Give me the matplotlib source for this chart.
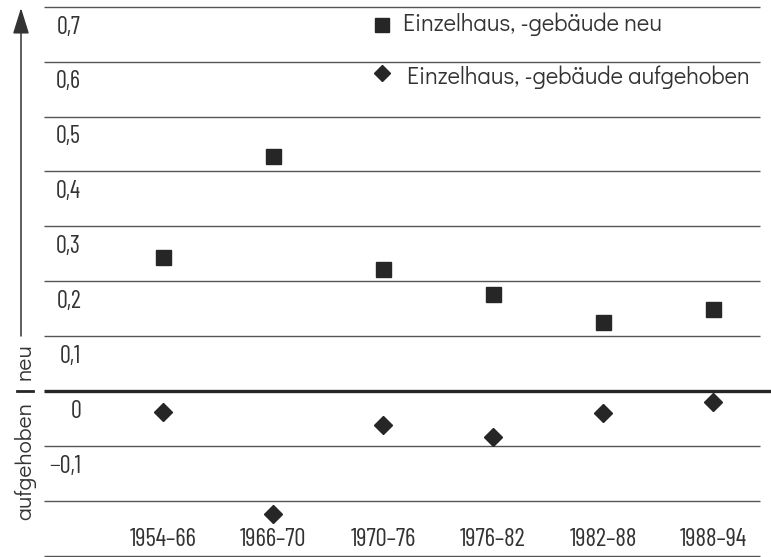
import matplotlib
matplotlib.use("Agg")
import matplotlib.pyplot as plt
import matplotlib.transforms as mtransforms

# ---- data ----
periods = ["1954–66", "1966–70", "1970–76", "1976–82", "1982–88", "1988–94"]
neu = [0.244, 0.428, 0.222, 0.177, 0.126, 0.149]
aufgehoben = [-0.038, -0.224, -0.062, -0.084, -0.040, -0.020]
grid_values = [-0.3, -0.2, -0.1, 0.0, 0.1, 0.2, 0.3, 0.4, 0.5, 0.6, 0.7]
y_labels = ["0,7", "0,6", "0,5", "0,4", "0,3", "0,2", "0,1", "0", "−0,1"]
y_label_values = [0.7, 0.6, 0.5, 0.4, 0.3, 0.2, 0.1, 0.0, -0.1]
legend_labels = ["Einzelhaus, -gebäude neu", "Einzelhaus, -gebäude aufgehoben"]

W, H = 771, 557
fig = plt.figure(figsize=(W / 100, H / 100), dpi=100)
ax = fig.add_axes([0, 0, 1, 1])
ax.set_axis_off()

# zero line at y=391px, 0.1 per 54.9 px; categories start at 163px, 110px apart
y_top = 391 / 549
y_bot = (391 - H) / 549
x_left = -163 / 110
x_right = (W - 163) / 110
ax.set_xlim(x_left, x_right)
ax.set_ylim(y_bot, y_top)

narrow = ["Barlow Condensed", "Fira Sans Condensed", "DejaVu Sans"]
geo = ["Didact Gothic", "Jost", "DejaVu Sans"]
dark = "#262626"
gray_txt = "#333333"

xl = (44 - 163) / 110
xr = (760 - 163) / 110
for v in grid_values:
    if abs(v) < 1e-9:
        ax.hlines(v, xl, W / 110, color=dark, lw=2.4, zorder=2)
    else:
        ax.hlines(v, xl, xr, color="#555555", lw=1.0, zorder=1)

# y labels, placed in each band
trans = mtransforms.blended_transform_factory(ax.transAxes, ax.transData)
for lab, v in zip(y_labels, y_label_values):
    ax.text(81 / W, v - 0.05 + 0.013, lab, transform=trans, ha="right", va="center",
            fontsize=17.5, family=narrow, color=gray_txt)

x = list(range(len(periods)))
ax.plot(x, neu, linestyle="none", marker="s", markersize=10.8, color=dark, zorder=3)
ax.plot(x, aufgehoben, linestyle="none", marker="D", markersize=9.0, color=dark, zorder=3)

for xi, p in zip(x, periods):
    ax.text(xi, (391 - 540) / 549, p, ha="center", va="center", fontsize=18,
            family=narrow, color=gray_txt)

# legend (inline)
fig.lines.append(plt.Line2D([382 / W], [1 - 25 / H], marker="s", markersize=10, color=dark,
                            transform=fig.transFigure, linestyle="none"))
fig.lines.append(plt.Line2D([382 / W], [1 - 73 / H], marker="D", markersize=8.5, color=dark,
                            transform=fig.transFigure, linestyle="none"))
fig.text(403 / W, 1 - 24 / H, legend_labels[0], ha="left", va="center", fontsize=17,
         family=geo, color=gray_txt)
fig.text(407 / W, 1 - 77 / H, legend_labels[1], ha="left", va="center", fontsize=17,
         family=geo, color=gray_txt)

# left arrow and axis captions
ax.annotate("", xy=(21 / W, 1 - 8 / H), xytext=(21 / W, 1 - 336 / H),
            xycoords="axes fraction", textcoords="axes fraction",
            arrowprops=dict(arrowstyle="-|>,head_length=1.6,head_width=0.5", color="#333333",
                            lw=1.1, shrinkA=0, shrinkB=0))
fig.text(25 / W, 1 - 362 / H, "neu", rotation=90, ha="center", va="center", fontsize=16.5,
         family=geo, color=gray_txt)
fig.text(25 / W, 1 - 461 / H, "aufgehoben", rotation=90, ha="center", va="center", fontsize=16.5,
         family=geo, color=gray_txt)
fig.lines.append(plt.Line2D([17 / W, 33 / W], [1 - 391 / H, 1 - 391 / H], color=dark, lw=2.0,
                            transform=fig.transFigure))

fig.savefig("out.png", dpi=100)
